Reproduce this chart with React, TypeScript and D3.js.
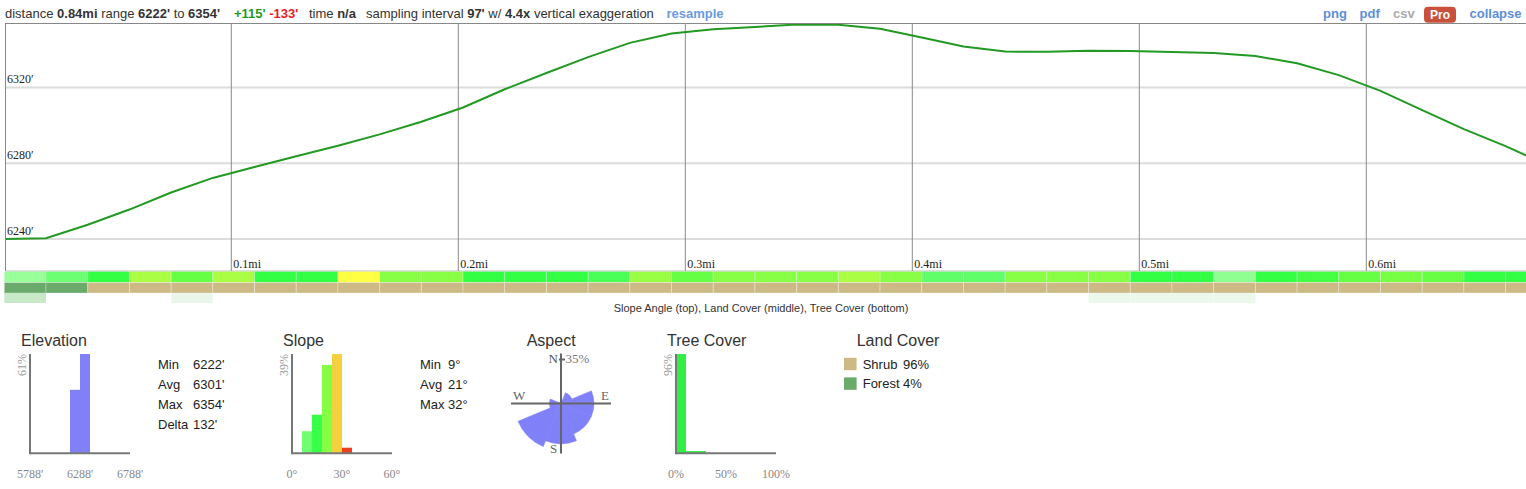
import * as d3 from 'd3';

// profile summary
const totalMiles = 0.84;
const sampleFeet = 97;
const summaryDistance = '0.84mi';
const summaryMin = "6222'";
const summaryMax = "6354'";
const summaryGain = "+115'";
const summaryLoss = "-133'";
const summaryInterval = "97'";
const summaryExaggeration = '4.4x';

// elevation samples every 97 ft (feet)
const elevations = [
    6240.0, 6240.4, 6247.5, 6255.5, 6264.5, 6272.2, 6278.0, 6283.6, 6289.2, 6295.2,
    6301.9, 6309.4, 6319.0, 6327.6, 6336.0, 6343.5, 6348.5, 6350.7, 6351.9, 6353.2,
    6353.1, 6351.0, 6346.3, 6341.6, 6338.9, 6338.8, 6339.3, 6339.2, 6338.7, 6338.2,
    6336.6, 6332.7, 6326.5, 6318.2, 6308.0, 6298.0, 6289.0, 6279.1,
];
// per-sample slope angle (deg), land cover, tree cover (%)
const slopeCells = [
    9, 13, 18, 25, 21, 25, 18, 18, 30, 23, 23, 18, 18, 18, 16, 24, 21, 23, 23, 23,
    25, 23, 14, 14, 23, 23, 23, 18, 18, 10, 18, 19, 21, 22, 21, 18, 18, 20,
];
const landCells = [
    'forest', 'forest', 'shrub', 'shrub', 'shrub', 'shrub', 'shrub', 'shrub', 'shrub', 'shrub',
    'shrub', 'shrub', 'shrub', 'shrub', 'shrub', 'shrub', 'shrub', 'shrub', 'shrub', 'shrub',
    'shrub', 'shrub', 'shrub', 'shrub', 'shrub', 'shrub', 'shrub', 'shrub', 'shrub', 'shrub',
    'shrub', 'shrub', 'shrub', 'shrub', 'shrub', 'shrub', 'shrub', 'shrub',
];
const treeCells = [
    22, 0, 0, 0, 8, 0, 0, 0, 0, 0, 0, 0, 0, 0, 0, 0, 0, 0, 0, 0,
    0, 0, 0, 0, 0, 0, 7, 7, 7, 7, 0, 0, 0, 0, 0, 0, 0, 0,
];
const distanceTicks = [0.1, 0.2, 0.3, 0.4, 0.5, 0.6, 0.7, 0.8];
const elevationTicks = [6240, 6280, 6320];

// elevation histogram (100 ft bins)
const elevBinStart = [6188, 6288];
const elevBinPct = [39, 61];
const elevAxisTicks = [5788, 6288, 6788];
const elevStatLabels = ['Min', 'Avg', 'Max', 'Delta'];
const elevStatValues = ["6222'", "6301'", "6354'", "132'"];

// slope histogram (6 deg bins)
const slopeBinStart = [6, 12, 18, 24, 30];
const slopeBinPct = [8.7, 15.2, 34.8, 39.1, 2.2];
const slopeAxisTicks = [0, 30, 60];
const slopeStatLabels = ['Min', 'Avg', 'Max'];
const slopeStatValues = ['9°', '21°', '32°'];

// aspect rose
const aspectDirs = ['N', 'NE', 'E', 'SE', 'S', 'SW', 'W', 'NW'];
const aspectPct = [0, 2.2, 17.4, 17.4, 26.1, 34.8, 2.2, 0];

// tree cover histogram (10% bins)
const treeBinStart = [0, 10, 20];
const treeBinPct = [95.7, 2.2, 2.2];
const treeAxisTicks = [0, 50, 100];

// land cover legend
const landNames = ['Shrub', 'Forest'];
const landKeys = ['shrub', 'forest'];
const landPct = [96, 4];

const sans = '"Liberation Sans", Arial, sans-serif';
const serif = '"Liberation Serif", "Times New Roman", serif';
const landColor: Record<string, string> = { shrub: '#ccb985', forest: '#6aaa6a' };
const slopeBinFill = ['#6fff70', '#38ff48', '#84ff44', '#f5d03e', '#ee4020'];

const W = 1526;
const H = 489;
const plotLeft = 4.3;
const pxPerMile = 2270;

type HistProps = {
    x0: number;
    title: string;
    lo: number;
    hi: number;
    ticks: number[];
    fmt: (v: number) => string;
    starts: number[];
    binW: number;
    pct: number[];
    fills: string[];
};

function Hist({ x0, title, lo, hi, ticks, fmt, starts, binW, pct, fills }: HistProps) {
    const maxPct = d3.max(pct) as number;
    const sx = d3.scaleLinear().domain([lo, hi]).range([x0, x0 + 100]);
    const sy = d3.scaleLinear().domain([0, maxPct]).range([453.3, 354]);
    return (
        <g>
            <text x={x0 - 9} y={346} fontFamily={sans} fontSize={16} fill="#333">
                {title}
            </text>
            {starts.map((s, i) => (
                <rect key={i} x={sx(s)} y={sy(pct[i])} width={sx(s + binW) - sx(s)} height={sy(0) - sy(pct[i])} fill={fills[i]} />
            ))}
            <line x1={x0} x2={x0} y1={354} y2={454.3} stroke="#777" strokeWidth={2} />
            <line x1={x0} x2={x0 + 100} y1={453.3} y2={453.3} stroke="#777" strokeWidth={2} />
            <text transform={`translate(${x0 - 4},354) rotate(-90)`} textAnchor="end" fontFamily={serif} fontSize={12} fill="#999">
                {Math.round(maxPct)}%
            </text>
            {ticks.map((t) => (
                <text key={t} x={sx(t)} y={478} textAnchor="middle" fontFamily={serif} fontSize={12} fill="#888">
                    {fmt(t)}
                </text>
            ))}
        </g>
    );
}

export default function App() {
    const x = d3.scaleLinear().domain([0, totalMiles]).range([plotLeft, plotLeft + totalMiles * pxPerMile]);
    const y = d3.scaleLinear().domain([6222, 6354]).range([273, 23]);
    const stepMi = sampleFeet / 5280;
    const line = d3
        .line<number>()
        .x((_, i) => x(i * stepMi))
        .y((d) => y(d));
    // only ticks whose label fits in the visible window
    const shownTicks = distanceTicks.filter((t) => x(t) + 40 < W);

    const slopeColor = d3
        .scaleLinear<string>()
        .domain([9, 18, 30, 36])
        .range(['#99ff99', '#33ff44', '#ffff44', '#ff3322'])
        .clamp(true);
    const treeColor = d3.scaleLinear<string>().domain([0, 100]).range(['#ffffff', '#009900']);

    const rose = { cx: 561, cy: 403.5 };
    const rScale = d3.scaleSqrt().domain([0, d3.max(aspectPct) as number]).range([0, 46.5]);
    const arc = d3.arc<number>();
    const sector = Math.PI / 4;

    const rows = [
        { y: 271.5, h: 11 },
        { y: 282.5, h: 10.5 },
        { y: 293, h: 10 },
    ];

    return (
        <div style={{ position: 'absolute', left: 0, top: 0 }}>
            <svg width={W} height={H} style={{ display: 'block', background: '#fff' }}>
                <defs>
                    <clipPath id="plot">
                        <rect x={5} y={23} width={W - 5} height={248} />
                    </clipPath>
                </defs>

                {/* header */}
                <text y={18} fontFamily={sans} fontSize={13} fill="#333">
                    <tspan x={5}>distance </tspan>
                    <tspan fontWeight="bold">{summaryDistance}</tspan>
                    <tspan> range </tspan>
                    <tspan fontWeight="bold">{summaryMin}</tspan>
                    <tspan> to </tspan>
                    <tspan fontWeight="bold">{summaryMax}</tspan>
                </text>
                <text y={18} fontFamily={sans} fontSize={13} fontWeight="bold">
                    <tspan x={234} fill="#1f9a1f">{summaryGain}</tspan>
                    <tspan fill="#e8202a"> {summaryLoss}</tspan>
                </text>
                <text x={309} y={18} fontFamily={sans} fontSize={13} fill="#333">
                    time <tspan fontWeight="bold">n/a</tspan>
                </text>
                <text x={366} y={18} fontFamily={sans} fontSize={13} fill="#333">
                    sampling interval <tspan fontWeight="bold">{summaryInterval}</tspan> w/{' '}
                    <tspan fontWeight="bold">{summaryExaggeration}</tspan> vertical exaggeration
                </text>
                <text x={666.5} y={18} fontFamily={sans} fontSize={13} fontWeight="bold" fill="#6b9be0">
                    resample
                </text>
                <g fontFamily={sans} fontSize={13} fontWeight="bold">
                    <text x={1323} y={18.3} fill="#5b8fd8">png</text>
                    <text x={1359.5} y={18.3} fill="#5b8fd8">pdf</text>
                    <text x={1393} y={18.3} fill="#aaa">csv</text>
                    <rect x={1424} y={6.7} width={32} height={16} rx={4} fill="#c9503a" />
                    <text x={1440} y={18.6} textAnchor="middle" fontSize={12} fill="#fff">Pro</text>
                    <text x={1469.5} y={18.3} fill="#5b8fd8">collapse</text>
                </g>

                {/* profile */}
                <g clipPath="url(#plot)">
                    {elevationTicks.map((t) => (
                        <line key={t} x1={5} x2={W} y1={y(t)} y2={y(t)} stroke="#dcdcdc" strokeWidth={2} />
                    ))}
                    {distanceTicks.map((t) => (
                        <line key={t} x1={x(t)} x2={x(t)} y1={23} y2={271} stroke="#8a8a8a" strokeWidth={1} />
                    ))}
                    <path d={line(elevations) ?? ''} fill="none" stroke="#229922" strokeWidth={2} />
                </g>
                <line x1={5} x2={W} y1={23.5} y2={23.5} stroke="#888" strokeWidth={1} />
                <line x1={5.5} x2={5.5} y1={23} y2={271} stroke="#888" strokeWidth={1} />
                <line x1={5} x2={W} y1={271.2} y2={271.2} stroke="#999" strokeWidth={1} />
                {elevationTicks.map((t) => (
                    <text key={t} x={7} y={y(t) - 4} fontFamily={serif} fontSize={12} fill="#222">
                        {t}′
                    </text>
                ))}
                {shownTicks.map((t) => (
                    <text key={t} x={x(t) + 2} y={268} fontFamily={serif} fontSize={12} fill="#222">
                        {t}mi
                    </text>
                ))}

                {/* strips */}
                <g stroke="#fff" strokeOpacity={0.3} strokeWidth={1}>
                    {slopeCells.map((s, i) => (
                        <rect key={'s' + i} x={x(i * stepMi)} y={rows[0].y} width={x((i + 1) * stepMi) - x(i * stepMi)} height={rows[0].h} fill={slopeColor(s)} />
                    ))}
                    {landCells.map((c, i) => (
                        <rect key={'l' + i} x={x(i * stepMi)} y={rows[1].y} width={x((i + 1) * stepMi) - x(i * stepMi)} height={rows[1].h} fill={landColor[c]} />
                    ))}
                </g>
                {treeCells.map((t, i) =>
                    t > 0 ? (
                        <rect key={'t' + i} x={x(i * stepMi)} y={rows[2].y} width={x((i + 1) * stepMi) - x(i * stepMi)} height={rows[2].h} fill={treeColor(t)} />
                    ) : null,
                )}
                <text x={761} y={312} textAnchor="middle" fontFamily={sans} fontSize={11} fill="#333">
                    Slope Angle (top), Land Cover (middle), Tree Cover (bottom)
                </text>

                {/* elevation */}
                <Hist x0={30} title="Elevation" lo={5788} hi={6788} ticks={elevAxisTicks} fmt={(v) => `${v}'`} starts={elevBinStart} binW={100} pct={elevBinPct} fills={['#8080f8', '#8080f8']} />
                {elevStatLabels.map((l, i) => (
                    <g key={l} fontFamily={sans} fontSize={13} fill="#222">
                        <text x={158} y={369 + i * 20}>{l}</text>
                        <text x={193} y={369 + i * 20}>{elevStatValues[i]}</text>
                    </g>
                ))}

                {/* slope */}
                <Hist x0={292} title="Slope" lo={0} hi={60} ticks={slopeAxisTicks} fmt={(v) => `${v}°`} starts={slopeBinStart} binW={6} pct={slopeBinPct} fills={slopeBinFill} />
                {slopeStatLabels.map((l, i) => (
                    <g key={l} fontFamily={sans} fontSize={13} fill="#222">
                        <text x={420} y={369 + i * 20}>{l}</text>
                        <text x={448} y={369 + i * 20}>{slopeStatValues[i]}</text>
                    </g>
                ))}

                {/* aspect */}
                <text x={526.7} y={346} fontFamily={sans} fontSize={16} fill="#333">Aspect</text>
                <g transform={`translate(${rose.cx},${rose.cy})`}>
                    {aspectDirs.map((d, i) => (
                        <path
                            key={d}
                            d={arc({ innerRadius: 0, outerRadius: rScale(aspectPct[i]), startAngle: i * sector - sector / 2, endAngle: i * sector + sector / 2 } as any) ?? ''}
                            fill="#8080f8"
                            stroke="#8080f8"
                            strokeWidth={0.6}
                        />
                    ))}
                    <line x1={-50} x2={50} y1={0} y2={0} stroke="#666" strokeWidth={2} />
                    <line x1={0} x2={0} y1={-50} y2={50} stroke="#666" strokeWidth={2} />
                    <line x1={-2} x2={4} y1={-44} y2={-44} stroke="#666" strokeWidth={2} />
                    <g fontFamily={serif} fontSize={13}>
                        <text x={-3} y={-40.5} textAnchor="end" fill="#555">N</text>
                        <text x={4.5} y={-40.5} fill="#777">{Math.round(d3.max(aspectPct) as number)}%</text>
                        <text x={-48} y={-3.5} fill="#666">W</text>
                        <text x={40} y={-3.5} fill="#666">E</text>
                        <text x={-11} y={49.5} fill="#666">S</text>
                    </g>
                </g>

                {/* tree cover */}
                <Hist x0={676} title="Tree Cover" lo={0} hi={100} ticks={treeAxisTicks} fmt={(v) => `${v}%`} starts={treeBinStart} binW={10} pct={treeBinPct} fills={['#33ee44', '#33ee44', '#33ee44']} />

                {/* land cover */}
                <text x={856.7} y={346} fontFamily={sans} fontSize={16} fill="#333">Land Cover</text>
                {landNames.map((n, i) => (
                    <g key={n} fontFamily={sans} fontSize={13} fill="#222">
                        <rect x={844} y={357.8 + i * 19.6} width={12.6} height={12.4} fill={landColor[landKeys[i]]} />
                        <text x={862.7} y={368.5 + i * 19.6}>{n}</text>
                        <text x={903} y={368.5 + i * 19.6}>{landPct[i]}%</text>
                    </g>
                ))}
            </svg>
        </div>
    );
}
